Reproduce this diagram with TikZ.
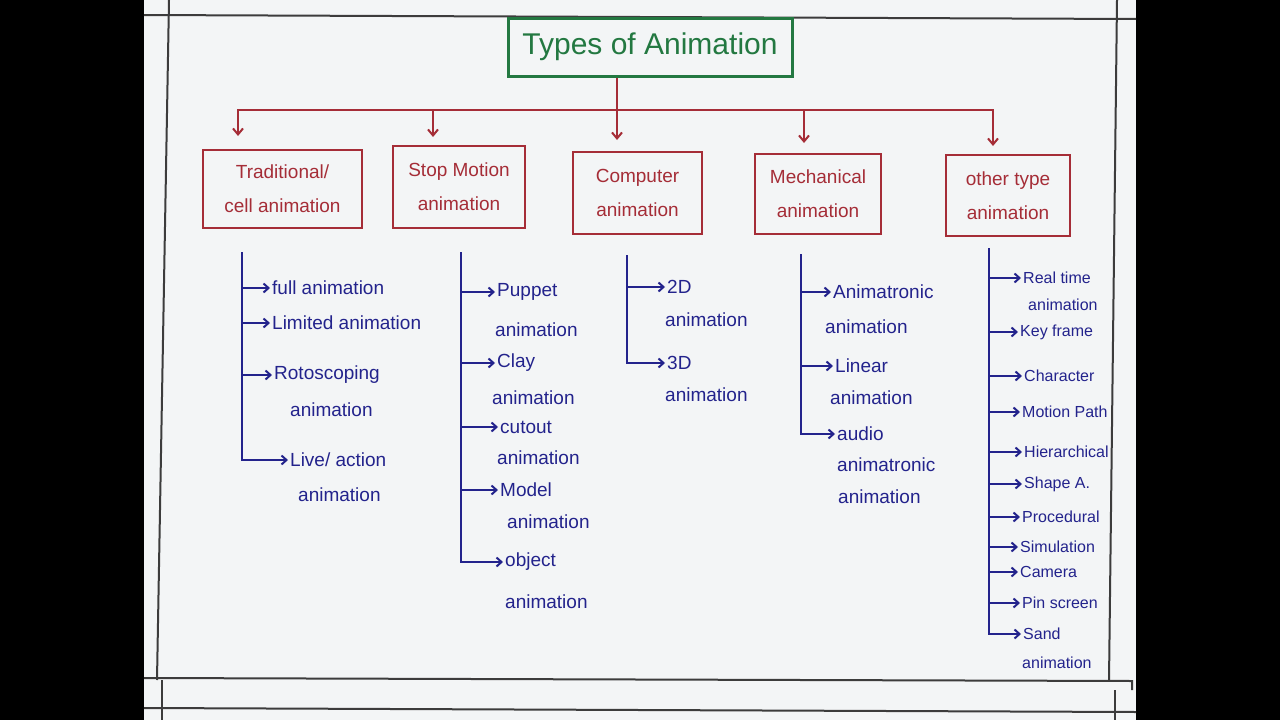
\documentclass[tikz,border=0pt]{standalone}
\usepackage{fontspec}
\setmainfont{Liberation Sans}
\usetikzlibrary{arrows.meta}
\definecolor{paper}{HTML}{F3F5F6}
\definecolor{pgreen}{HTML}{237841}
\definecolor{pred}{HTML}{A52D37}
\definecolor{pblue}{HTML}{23238C}
\definecolor{pframe}{HTML}{3C3C3C}
\begin{document}
\begin{tikzpicture}[x=1pt,y=-1pt,
  frameline/.style={draw=pframe,line width=2pt},
  tbox/.style={draw=pgreen,line width=3pt,text=pgreen,font=\fontsize{30}{34}\selectfont,inner sep=0pt},
  rbox/.style={draw=pred,line width=2.4pt,text=pred,align=center,inner sep=0pt,font=\fontsize{19}{34}\selectfont},
  rline/.style={draw=pred,line width=2pt},
  rarr/.style={draw=pred,line width=2pt,-{Straight Barb[length=6pt,width=10pt]}},
  item/.style={anchor=west,inner sep=0pt,text=pblue,font=\fontsize{19}{22}\selectfont},
  itemsm/.style={anchor=west,inner sep=0pt,text=pblue,font=\fontsize{16}{19}\selectfont},
  barr/.style={draw=pblue,line width=2pt,-{Straight Barb[length=5pt,width=9pt]},shorten >=2pt}]
\useasboundingbox (0,0) rectangle (1280,720);
\fill[black] (0,0) rectangle (1280,720);
\fill[paper] (144,0) rectangle (1136,720);
% page frame
\draw[frameline] (144,15) -- (1136,19);
\draw[frameline] (169,0) -- (157,680);
\draw[frameline] (162,680) -- (162,720);
\draw[frameline] (1117,0) -- (1109,681);
\draw[frameline] (1115,690) -- (1115,720);
\draw[frameline] (144,678) -- (1132,681) -- (1132,690);
\draw[frameline] (144,708) -- (1136,712);
% title
\node[tbox,minimum width=284pt,minimum height=58pt] (title) at (650,47) {Types of Animation};
% boxes
\node[rbox,minimum width=159pt,minimum height=78pt] (b1) at (282.5,189) {Traditional/\\cell animation};
\node[rbox,minimum width=132pt,minimum height=82pt] (b2) at (459,187) {Stop Motion\\animation};
\node[rbox,minimum width=129pt,minimum height=82pt] (b3) at (637.5,193) {Computer\\animation};
\node[rbox,minimum width=126pt,minimum height=80pt] (b4) at (818,194) {Mechanical\\animation};
\node[rbox,minimum width=124pt,minimum height=81pt] (b5) at (1008,195.5) {other type\\animation};
% top connectors
\coordinate (bus) at (617,110);
\coordinate (a1) at (238,136);
\coordinate (a2) at (433,137);
\coordinate (a3) at (617,140);
\coordinate (a4) at (804,143);
\coordinate (a5) at (993,146);
\draw[rline] (title.south -| bus) -- (bus);
\draw[rarr] (bus) -| (a1);
\draw[rarr] (bus) -| (a2);
\draw[rarr] (bus) -- (a3);
\draw[rarr] (bus) -| (a4);
\draw[rarr] (bus) -| (a5);
% trunk tops
\coordinate (t1) at (242,252);
\coordinate (t2) at (461,252);
\coordinate (t3) at (627,255);
\coordinate (t4) at (801,254);
\coordinate (t5) at (989,248);
% column 1
\node[item] (c11) at (272,288) {full animation};
\node[item] (c12) at (272,323) {Limited animation};
\node[item] (c13) at (274,375) {Rotoscoping};
\node[item] (c13b) at (290,410) {animation};
\node[item] (c14) at (290,460) {Live/ action};
\node[item] (c14b) at (298,495) {animation};
\draw[barr] (t1) |- (c11.west);
\draw[barr] (t1) |- (c12.west);
\draw[barr] (t1) |- (c13.west);
\draw[barr] (t1) |- (c14.west);
% column 2
\node[item] (c21) at (497,292) {Puppet};
\node[item] (c21b) at (495,330) {animation};
\node[item] (c22) at (497,363) {Clay};
\node[item] (c22b) at (492,398) {animation};
\node[item] (c23) at (500,427) {cutout};
\node[item] (c23b) at (497,458) {animation};
\node[item] (c24) at (500,490) {Model};
\node[item] (c24b) at (507,522) {animation};
\node[item] (c25) at (505,562) {object};
\node[item] (c25b) at (505,602) {animation};
\draw[barr] (t2) |- (c21.west);
\draw[barr] (t2) |- (c22.west);
\draw[barr] (t2) |- (c23.west);
\draw[barr] (t2) |- (c24.west);
\draw[barr] (t2) |- (c25.west);
% column 3
\node[item] (c31) at (667,287) {2D};
\node[item] (c31b) at (665,320) {animation};
\node[item] (c32) at (667,363) {3D};
\node[item] (c32b) at (665,395) {animation};
\draw[barr] (t3) |- (c31.west);
\draw[barr] (t3) |- (c32.west);
% column 4
\node[item] (c41) at (833,292) {Animatronic};
\node[item] (c41b) at (825,327) {animation};
\node[item] (c42) at (835,366) {Linear};
\node[item] (c42b) at (830,398) {animation};
\node[item] (c43) at (837,434) {audio};
\node[item] (c43b) at (837,465) {animatronic};
\node[item] (c43c) at (838,497) {animation};
\draw[barr] (t4) |- (c41.west);
\draw[barr] (t4) |- (c42.west);
\draw[barr] (t4) |- (c43.west);
% column 5
\node[itemsm] (c51) at (1023,278) {Real time};
\node[itemsm] (c51b) at (1028,305) {animation};
\node[itemsm] (c52) at (1020,332) {Key frame};
\node[itemsm] (c53) at (1024,376) {Character};
\node[itemsm] (c54) at (1022,412) {Motion Path};
\node[itemsm] (c55) at (1024,452) {Hierarchical};
\node[itemsm] (c56) at (1024,484) {Shape A.};
\node[itemsm] (c57) at (1022,517) {Procedural};
\node[itemsm] (c58) at (1020,547) {Simulation};
\node[itemsm] (c59) at (1020,572) {Camera};
\node[itemsm] (c510) at (1022,603) {Pin screen};
\node[itemsm] (c511) at (1023,634) {Sand};
\node[itemsm] (c511b) at (1022,663) {animation};
\foreach \n in {c51,c52,c53,c54,c55,c56,c57,c58,c59,c510,c511}
  \draw[barr] (t5) |- (\n.west);
\end{tikzpicture}
\end{document}
